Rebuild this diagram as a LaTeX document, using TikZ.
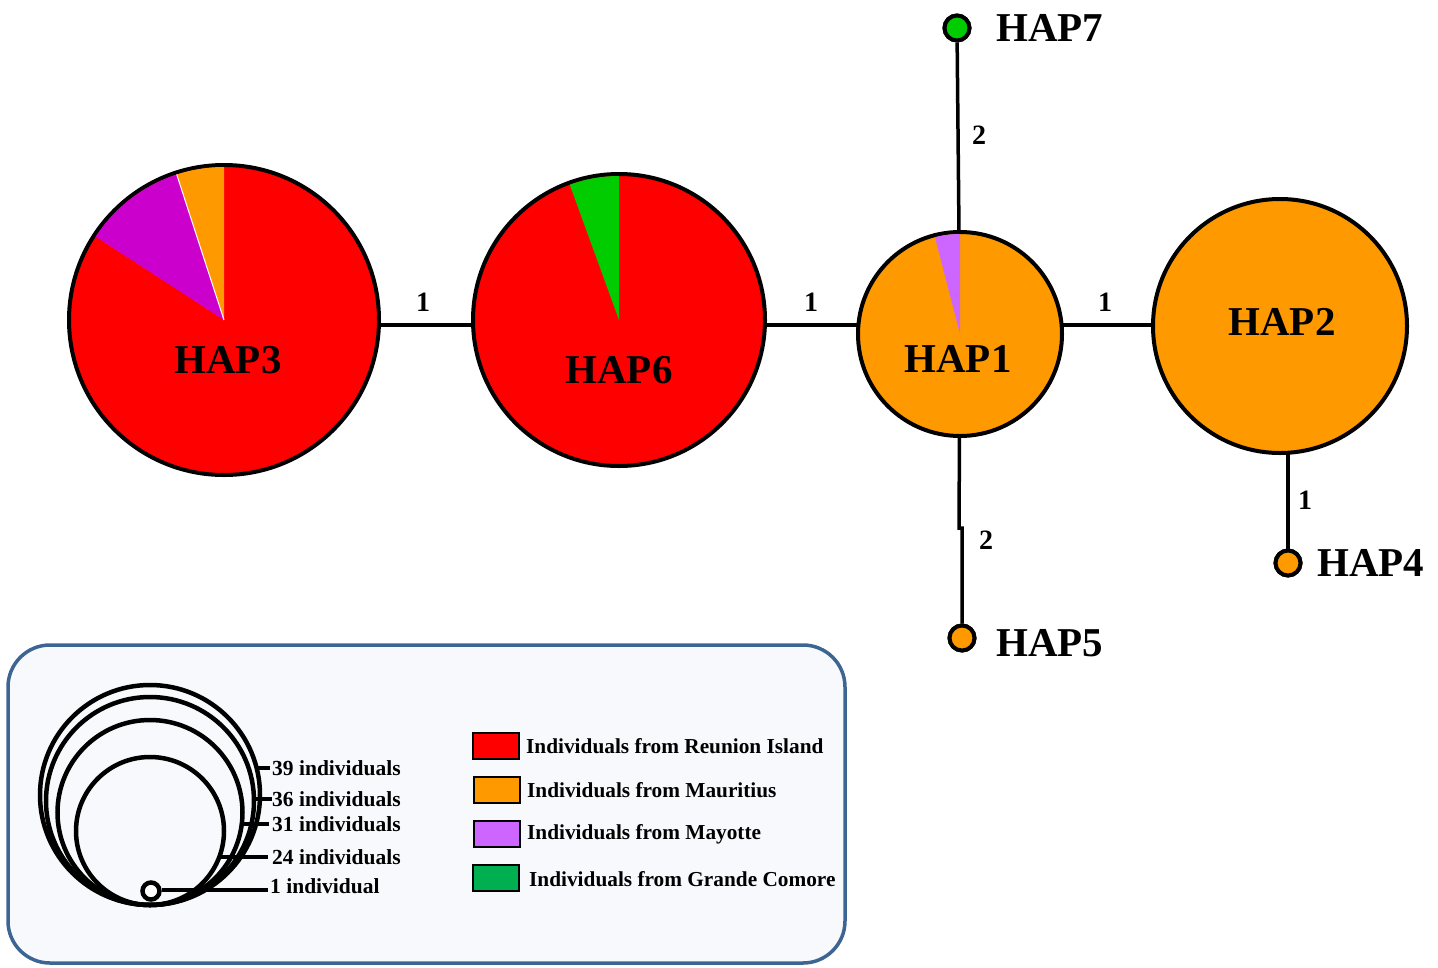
\documentclass[tikz,border=0pt]{standalone}
\usepackage{fontspec}
\setmainfont{Liberation Serif}
\definecolor{hred}{HTML}{FF0000}
\definecolor{horange}{HTML}{FF9900}
\definecolor{hmagenta}{HTML}{CC00CC}
\definecolor{hviolet}{HTML}{CC66FF}
\definecolor{hgreen}{HTML}{00CC00}
\definecolor{lgreen}{HTML}{00B050}
\definecolor{boxfill}{HTML}{F8F9FD}
\definecolor{boxline}{HTML}{3D6593}
\begin{document}
\begin{tikzpicture}[x=1pt,y=-1pt,
  hap/.style={circle, draw=black, line width=4pt, inner sep=0pt},
  small/.style={circle, draw=black, line width=4pt, inner sep=0pt, minimum size=25pt},
  lab/.style={font=\fontsize{41}{41}\selectfont\bfseries, inner sep=0pt},
  elab/.style={font=\fontsize{28}{28}\selectfont\bfseries, inner sep=0pt},
  link/.style={line width=3.5pt, draw=black},
  ring/.style={circle, draw=black, line width=4.5pt, inner sep=0pt},
  rlab/.style={font=\fontsize{21.5}{21.5}\selectfont\bfseries, inner sep=0pt, anchor=west},
  lead/.style={line width=3.5pt},
  swatch/.style={draw=black, line width=2pt, minimum width=46pt, minimum height=26pt, inner sep=0pt},
  slab/.style={font=\fontsize{21.3}{21.3}\selectfont\bfseries, inner sep=0pt, anchor=west}]
\useasboundingbox (0,0) rectangle (1438,967);

% centres
\coordinate (row) at (0,325);
\coordinate (c3) at (224,320);
\coordinate (c6) at (619,320);
\coordinate (c1) at (960,334);
\coordinate (c2) at (1280,326);

% connectors (behind nodes)
\coordinate (k1) at (959,528);
\coordinate (k2) at (962,528);
\node[small, fill=hgreen] (hap7) at (957,28) {};
\node[small, fill=horange] (hap5) at (962,638) {};
\node[small, fill=horange] (hap4) at (1288,563) {};
\draw[link] (c3 |- row) -- (c6 |- row);
\draw[link] (c6 |- row) -- (c1 |- row);
\draw[link] (c1 |- row) -- (c2 |- row);
\draw[link] (hap7) -- (c1);
\draw[link] (c1) -- (k1) -- (k2) -- (hap5);
\draw[link] (hap4 |- c2) -- (hap4);
\node[small, fill=hgreen] at (hap7) {};
\node[small, fill=horange] at (hap5) {};
\node[small, fill=horange] at (hap4) {};

% HAP3
\node[hap, fill=hred, minimum size=310pt] (hap3) at (c3) {};
\fill[horange] (c3) -- ++(90:153pt) arc[start angle=90, end angle=108, radius=153pt] -- cycle;
\fill[hmagenta] (c3) -- ++(108:153pt) arc[start angle=108, end angle=147, radius=153pt] -- cycle;
\draw[white, line width=1pt] (c3) -- ++(108:153pt);
% HAP6
\node[hap, fill=hred, minimum size=292pt] (hap6) at (c6) {};
\fill[hgreen] (c6) -- ++(90:144pt) arc[start angle=90, end angle=110, radius=144pt] -- cycle;
% HAP1
\node[hap, fill=horange, minimum size=204pt] (hap1) at (c1) {};
\fill[hviolet] (c1) -- ++(90:100pt) arc[start angle=90, end angle=104.5, radius=100pt] -- cycle;
% HAP2
\node[hap, fill=horange, minimum size=254pt] (hap2) at (c2) {};

% labels
\node[lab] (l3) at (228,360) {HAP3};
\node[lab] (l6) at (619,370) {HAP6};
\node[lab] (l1) at (958,359) {HAP1};
\node[lab] (l2) at (1282,322) {HAP2};
\node[lab, anchor=west] (l7) at (996,28) {HAP7};
\node[lab, anchor=west] (l5) at (996,643) {HAP5};
\node[lab, anchor=west] (l4) at (1317,563) {HAP4};

\node[elab] (e36) at (423,302) {1};
\node[elab] (e61) at (811,302) {1};
\node[elab] (e12) at (1105,302) {1};
\node[elab] (e71) at (979,135) {2};
\node[elab] (e15) at (986,540) {2};
\node[elab] (e24) at (1305,500) {1};

% legend box
\draw[boxline, fill=boxfill, line width=3.5pt, rounded corners=42pt] (8,645) rectangle (845,963);

% size rings
\node[ring, minimum size=220pt] (r39) at (150,795) {};
\node[ring, minimum size=208pt] (r36) at (150,801) {};
\node[ring, minimum size=185pt] (r31) at (150,812.5) {};
\node[ring, minimum size=148pt] (r24) at (150,831) {};
\node[ring, fill=white, minimum size=17pt] (r1) at (151,891) {};

\node[rlab] (t39) at (272,768) {39 individuals};
\node[rlab] (t36) at (272,799) {36 individuals};
\node[rlab] (t31) at (272,824) {31 individuals};
\node[rlab] (t24) at (272,857) {24 individuals};
\node[rlab] (t1) at (270,886) {1 individual};
\coordinate (p39) at (258,768);
\coordinate (p36) at (255,799);
\coordinate (p31) at (242,824);
\coordinate (p24) at (218,857);
\draw[lead] (p39) -- ([xshift=-2pt]t39.west);
\draw[lead] (p36) -- (t36.west);
\draw[lead] (p31) -- ([xshift=-3pt]t31.west);
\draw[lead] (p24) -- ([xshift=-4pt]t24.west);
\draw[lead] (r1.east |- 0,890) -- (268,890);

% colour key
\node[swatch, fill=hred] (s1) at (496,746) {};
\node[swatch, fill=horange] (s2) at (497,790) {};
\node[swatch, fill=hviolet] (s3) at (497,834) {};
\node[swatch, fill=lgreen] (s4) at (496,878) {};
\node[slab] (k1t) at (526,746) {Individuals from Reunion Island};
\node[slab] (k2t) at (527,790) {Individuals from Mauritius};
\node[slab] (k3t) at (527,834) {Individuals from Mayotte};
\node[slab] (k4t) at (529,879) {Individuals from Grande Comore};
\end{tikzpicture}
\end{document}
